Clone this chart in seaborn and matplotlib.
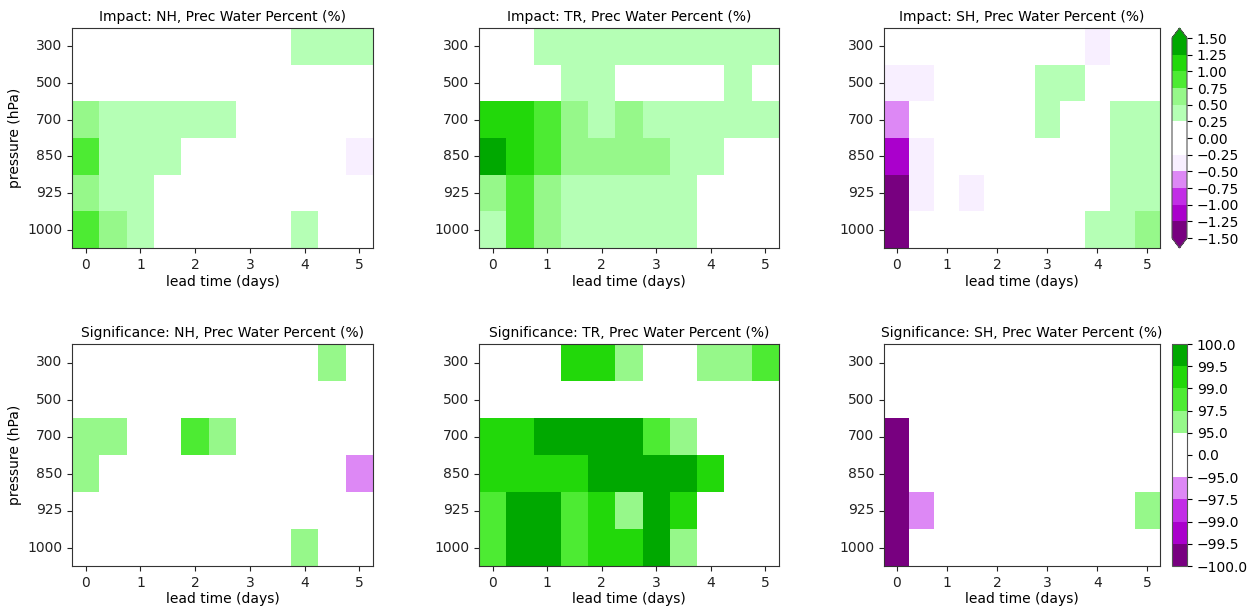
import numpy as np
import pandas as pd
import seaborn as sns
import matplotlib.pyplot as plt
from matplotlib.colors import ListedColormap, BoundaryNorm

pressure = ["300", "500", "700", "850", "925", "1000"]
lead = [0, 0.5, 1, 1.5, 2, 2.5, 3, 3.5, 4, 4.5, 5]
regions = ["NH", "TR", "SH"]

# impact (%) per level (rows) and lead time (cols)
impact_nh = [
    [0.05, 0.08, 0.10, 0.12, 0.10, 0.08, 0.12, 0.20, 0.32, 0.35, 0.30],
    [0.02, 0.05, 0.08, 0.10, 0.12, 0.10, 0.15, 0.18, 0.20, 0.15, 0.10],
    [0.62, 0.42, 0.38, 0.35, 0.30, 0.28, 0.20, 0.15, 0.10, 0.05, 0.02],
    [0.88, 0.45, 0.38, 0.30, 0.20, 0.15, 0.10, 0.05, 0.02, -0.05, -0.30],
    [0.60, 0.40, 0.32, 0.22, 0.15, 0.10, 0.05, 0.02, 0.10, 0.05, 0.02],
    [0.85, 0.58, 0.35, 0.20, 0.12, 0.08, 0.05, 0.15, 0.30, 0.10, 0.05],
]
impact_tr = [
    [0.10, 0.20, 0.32, 0.38, 0.40, 0.35, 0.30, 0.32, 0.30, 0.28, 0.27],
    [0.05, 0.15, 0.22, 0.30, 0.28, 0.20, 0.15, 0.12, 0.20, 0.30, 0.18],
    [1.10, 1.05, 0.90, 0.60, 0.45, 0.55, 0.42, 0.38, 0.35, 0.32, 0.30],
    [1.35, 1.15, 0.95, 0.70, 0.65, 0.60, 0.55, 0.45, 0.30, 0.20, 0.15],
    [0.60, 0.90, 0.70, 0.45, 0.42, 0.40, 0.35, 0.30, 0.20, 0.15, 0.10],
    [0.40, 0.85, 0.65, 0.40, 0.35, 0.35, 0.30, 0.28, 0.20, 0.12, 0.10],
]
impact_sh = [
    [0.02, 0.05, 0.05, 0.02, -0.05, -0.10, -0.15, -0.20, -0.30, -0.10, 0.05],
    [-0.30, -0.28, -0.15, -0.05, 0.05, 0.10, 0.28, 0.30, 0.15, 0.05, 0.02],
    [-0.60, -0.20, -0.10, -0.05, 0.05, 0.10, 0.30, 0.20, 0.20, 0.30, 0.32],
    [-1.10, -0.30, -0.20, -0.10, 0.02, 0.08, 0.15, 0.20, 0.22, 0.35, 0.38],
    [-1.40, -0.32, -0.20, -0.28, -0.10, 0.02, 0.10, 0.15, 0.20, 0.35, 0.40],
    [-1.45, -0.20, -0.15, -0.10, 0.02, 0.05, 0.12, 0.20, 0.30, 0.35, 0.60],
]

# significance (%) per level and lead time
sig_nh = [
    [0, 0, 0, 0, 0, 0, 0, 0, 0, 96, 0],
    [0, 0, 0, 0, 0, 0, 0, 0, 0, 0, 0],
    [96, 96, 0, 0, 98, 96, 0, 0, 0, 0, 0],
    [96, 0, 0, 0, 0, 0, 0, 0, 0, 0, -96],
    [0, 0, 0, 0, 0, 0, 0, 0, 0, 0, 0],
    [0, 0, 0, 0, 0, 0, 0, 0, 96, 0, 0],
]
sig_tr = [
    [0, 0, 0, 99.2, 99.2, 96, 0, 0, 96, 96, 98],
    [0, 0, 0, 0, 0, 0, 0, 0, 0, 0, 0],
    [99.2, 99.2, 99.8, 99.8, 99.8, 99.8, 98, 96, 0, 0, 0],
    [99.2, 99.2, 99.2, 99.2, 99.8, 99.8, 99.8, 99.8, 99.2, 0, 0],
    [98, 99.8, 99.8, 98, 99.2, 96, 99.8, 99.2, 0, 0, 0],
    [98, 99.8, 99.8, 98, 99.2, 99.2, 99.8, 96, 0, 0, 0],
]
sig_sh = [
    [0, 0, 0, 0, 0, 0, 0, 0, 0, 0, 0],
    [0, 0, 0, 0, 0, 0, 0, 0, 0, 0, 0],
    [-99.8, 0, 0, 0, 0, 0, 0, 0, 0, 0, 0],
    [-99.8, 0, 0, 0, 0, 0, 0, 0, 0, 0, 0],
    [-99.8, -96, 0, 0, 0, 0, 0, 0, 0, 0, 96],
    [-99.8, 0, 0, 0, 0, 0, 0, 0, 0, 0, 0],
]

impact_levels = [-1.5, -1.25, -1.0, -0.75, -0.5, -0.25, 0, 0.25, 0.5, 0.75, 1.0, 1.25, 1.5]
sig_levels = [-100, -99.5, -99, -97.5, -95, 0, 95, 97.5, 99, 99.5, 100]

dkpurple, magenta, purple, ltpurple, palepurple = "#780080", "#aa00cc", "#c22ee6", "#dd88f5", "#f8efff"
palegreen, ltgreen, brgreen, green, dkgreen = "#b5ffb5", "#96f88a", "#4deb33", "#22d80a", "#00a800"
impact_cmap = ListedColormap([dkpurple, magenta, purple, ltpurple, palepurple, "white",
                              "white", palegreen, ltgreen, brgreen, green, dkgreen])
impact_cmap.set_under(dkpurple)
impact_cmap.set_over(dkgreen)
sig_cmap = ListedColormap([dkpurple, magenta, purple, ltpurple, "white",
                           "white", ltgreen, brgreen, green, dkgreen])

fig = plt.figure(figsize=(12.5, 6.06), dpi=100)
W, H = 1250, 606


def px_axes(x0, y0, x1, y1):
    return fig.add_axes([x0 / W, 1 - y1 / H, (x1 - x0) / W, (y1 - y0) / H])


cols = [(72, 373), (479, 779), (884, 1160)]
rows = [(28, 248), (344, 566)]
cbar_x = (1172, 1187)

panels = [
    ("Impact", [impact_nh, impact_tr, impact_sh], impact_cmap, impact_levels, "both"),
    ("Significance", [sig_nh, sig_tr, sig_sh], sig_cmap, sig_levels, "neither"),
]

for r, (kind, grids, cmap, levels, ext) in enumerate(panels):
    norm = BoundaryNorm(levels, cmap.N)
    y0, y1 = rows[r]
    for c, (reg, grid) in enumerate(zip(regions, grids)):
        ax = px_axes(cols[c][0], y0, cols[c][1], y1)
        df = pd.DataFrame(grid, index=pressure, columns=lead)
        last = c == 2
        cax = px_axes(cbar_x[0], y0, cbar_x[1], y1) if last else None
        sns.heatmap(df, ax=ax, cmap=cmap, norm=norm, cbar=last, cbar_ax=cax,
                    cbar_kws={"extend": ext, "ticks": levels} if last else None)
        ax.set_xticks(np.arange(0, len(lead), 2) + 0.5)
        ax.set_xticklabels([f"{t:g}" for t in lead[::2]], rotation=0)
        ax.set_yticklabels(pressure, rotation=0, va="center")
        for s in ax.spines.values():
            s.set_visible(True)
            s.set_linewidth(0.8)
            s.set_color("#333333")
        ax.tick_params(labelsize=10, length=3.5, width=0.8, colors="#222222")
        ax.set_title(f"{kind}: {reg}, Prec Water Percent (%)", fontsize=10, pad=5)
        ax.set_xlabel("lead time (days)", fontsize=10, labelpad=2)
        ax.set_ylabel("pressure (hPa)" if c == 0 else "", fontsize=10)
        if last:
            cb = ax.collections[0].colorbar
            cb.outline.set_linewidth(0.8)
            cb.outline.set_edgecolor("#555555")
            cb.ax.tick_params(labelsize=10, length=3.5, width=0.8)

fig.savefig("out.png", dpi=100)
